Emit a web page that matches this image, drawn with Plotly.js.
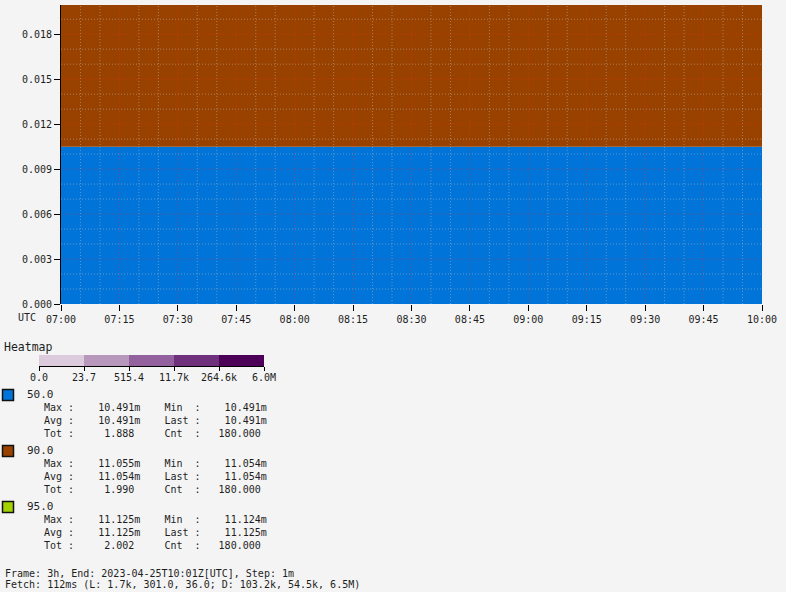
<!DOCTYPE html>
<html>
<head>
<meta charset="utf-8">
<script src="https://cdn.plot.ly/plotly-3.0.1.min.js"></script>
<style>html,body{margin:0;padding:0;background:#f4f4f4;}#chart{width:786px;height:592px;}</style>
</head>
<body>
<div id="chart"></div>
<script>
// ---- data ----
var times = ['2023-04-25 07:00','2023-04-25 07:15','2023-04-25 07:30','2023-04-25 07:45','2023-04-25 08:00','2023-04-25 08:15','2023-04-25 08:30','2023-04-25 08:45','2023-04-25 09:00','2023-04-25 09:15','2023-04-25 09:30','2023-04-25 09:45','2023-04-25 10:00'];
var p50 = [0.010491,0.010491,0.010491,0.010491,0.010491,0.010491,0.010491,0.010491,0.010491,0.010491,0.010491,0.010491,0.010491];
var p90 = [0.011054,0.011054,0.011054,0.011054,0.011054,0.011054,0.011054,0.011054,0.011054,0.011054,0.011054,0.011054,0.011054];
var p95 = [0.011125,0.011125,0.011125,0.011125,0.011125,0.011125,0.011125,0.011125,0.011125,0.011125,0.011125,0.011125,0.011125];
var seriesNames = ['50.0','90.0','95.0'];
var seriesColors = ['#0074d9','#994200','#a3d300'];
var maxVals = ['10.491m','11.055m','11.125m'];
var minVals = ['10.491m','11.054m','11.124m'];
var avgVals = ['10.491m','11.054m','11.125m'];
var lastVals = ['10.491m','11.054m','11.125m'];
var totVals = ['1.888','1.990','2.002'];
var cntVals = ['180.000','180.000','180.000'];
var heatCells = [0,1,2,3,4];
var heatColors = ['#dccadd','#b897bd','#93619e','#6f317c','#4d0058'];
var heatTickText = ['0.0','23.7','515.4','11.7k','264.6k','6.0M'];
var yTicks = [0,0.003,0.006,0.009,0.012,0.015,0.018];
var frameText = 'Frame: 3h, End: 2023-04-25T10:01Z[UTC], Step: 1m';
var fetchText = 'Fetch: 112ms (L: 1.7k, 301.0, 36.0; D: 103.2k, 54.5k, 6.5M)';

// ---- layout helpers ----
var W = 786, H = 592;
var MONO = 'DejaVu Sans Mono, monospace';
function px(x){ return x / W; }
function py(y){ return 1 - y / H; }
function nb(s){ return s.replace(/ /g, '\u00a0'); }
function padL(s, n){ while (s.length < n) s = ' ' + s; return s; }
function numPart(v){ return /m$/.test(v) ? [v.slice(0,-1),'m'] : [v,' ']; }
function fmt(v){ var p = numPart(v); return padL(p[0],10) + p[1]; }

var traces = [];
var yData = [p50, p90, p95];
for (var i = 0; i < 3; i++) {
  traces.push({
    type: 'scatter', mode: 'lines', x: times, y: yData[i],
    stackgroup: 'one', line: {width: 0, color: seriesColors[i]},
    fillcolor: seriesColors[i], name: seriesNames[i], hoverinfo: 'skip',
    xaxis: 'x', yaxis: 'y'
  });
}
traces.push({
  type: 'heatmap', z: [heatCells], x: heatCells, y: [0],
  zmin: 0, zmax: 4, showscale: false, hoverinfo: 'skip',
  colorscale: [[0,heatColors[0]],[0.25,heatColors[1]],[0.5,heatColors[2]],[0.75,heatColors[3]],[1,heatColors[4]]],
  xaxis: 'x2', yaxis: 'y2'
});

// grid shapes (above traces)
var shapes = [];
var majorC = 'rgba(255,40,40,0.4)', minorC = 'rgba(190,190,190,0.5)';
var t0 = new Date('2023-04-25T07:00:00Z').getTime();
function tstr(ms){ var d = new Date(ms); return d.toISOString().replace('T',' ').slice(0,19); }
for (var m = 5; m < 180; m += 5) {
  shapes.push({type:'line', layer:'above', xref:'x', yref:'y domain', x0:tstr(t0+m*60000), x1:tstr(t0+m*60000), y0:0, y1:1,
    line:{width:1, dash:'1px,2px', color: (m % 15 === 0) ? majorC : minorC}});
}
for (var k = 1; k <= 19; k++) {
  var yv = k * 0.001;
  shapes.push({type:'line', layer:'above', xref:'x domain', yref:'y', x0:0, x1:1, y0:yv, y1:yv,
    line:{width:1, dash:'1px,2px', color: (k % 3 === 0) ? majorC : minorC}});
}

var annotations = [];
function ann(text, x, y, xanchor, size){
  annotations.push({text: nb(text), xref:'paper', yref:'paper', x: px(x), y: py(y), xanchor: xanchor || 'left', yanchor:'middle',
    showarrow:false, borderpad:0, font:{family: MONO, size: size || 10, color:'#1e1e1e'}});
}
ann('UTC', 27, 317, 'center', 10);
ann('Heatmap', 3, 347, 'left', 11.5);
for (var s = 0; s < 3; s++) {
  var off = 56 * s;
  shapes.push({type:'rect', layer:'above', xref:'paper', yref:'paper', x0:px(2.5), x1:px(13.5), y0:py(400.5+off), y1:py(389.5+off),
    fillcolor: seriesColors[s], line:{color:'#111', width:1.5}});
  ann(seriesNames[s], 26, 394.5 + off, 'left', 11);
  ann('Max :' + fmt(maxVals[s]) + '    Min  :' + fmt(minVals[s]), 43, 407.5 + off, 'left', 10);
  ann('Avg :' + fmt(avgVals[s]) + '    Last :' + fmt(lastVals[s]), 43, 420.5 + off, 'left', 10);
  ann('Tot :' + fmt(totVals[s]) + '    Cnt  :' + fmt(cntVals[s]), 43, 433 + off, 'left', 10);
}
ann(frameText, 4, 573, 'left', 10);
ann(fetchText, 4, 584, 'left', 10);

var tickFont = {family: MONO, size: 10, color: '#1e1e1e'};
var layout = {
  width: W, height: H,
  margin: {l:0, r:0, t:0, b:0},
  paper_bgcolor: '#f4f4f4', plot_bgcolor: '#f4f4f4',
  showlegend: false,
  xaxis: {
    type:'date', domain:[px(61), px(762)], anchor:'y',
    range:['2023-04-25 07:00','2023-04-25 10:00'],
    tick0:'2023-04-25 07:00', dtick: 900000, tickformat:'%H:%M',
    ticks:'outside', ticklen:6, tickcolor:'#000', tickwidth:1,
    showgrid:false, zeroline:false, showline:false, tickfont: tickFont
  },
  yaxis: {
    domain:[py(304), py(5)], anchor:'x',
    range:[0, 0.01995], tickvals: yTicks, tickformat:'.3f',
    ticks:'outside', ticklen:6, tickcolor:'#000', tickwidth:1,
    showline:true, linecolor:'#000', linewidth:1,
    showgrid:false, zeroline:false, tickfont: tickFont
  },
  xaxis2: {
    domain:[px(39), px(264)], anchor:'y2', range:[-0.5, 4.5],
    tickvals:[-0.5,0.5,1.5,2.5,3.5,4.5], ticktext: heatTickText,
    ticks:'outside', ticklen:4, tickcolor:'#000', tickwidth:1,
    ticklabelstandoff: -2,
    showline:true, linecolor:'#000', linewidth:1,
    showgrid:false, zeroline:false, tickfont: tickFont
  },
  yaxis2: {
    domain:[py(366), py(355)], anchor:'x2', range:[-0.5,0.5],
    visible:false, showgrid:false, zeroline:false
  },
  shapes: shapes,
  annotations: annotations
};
Plotly.newPlot('chart', traces, layout, {staticPlot:true, displayModeBar:false});
</script>
</body>
</html>
